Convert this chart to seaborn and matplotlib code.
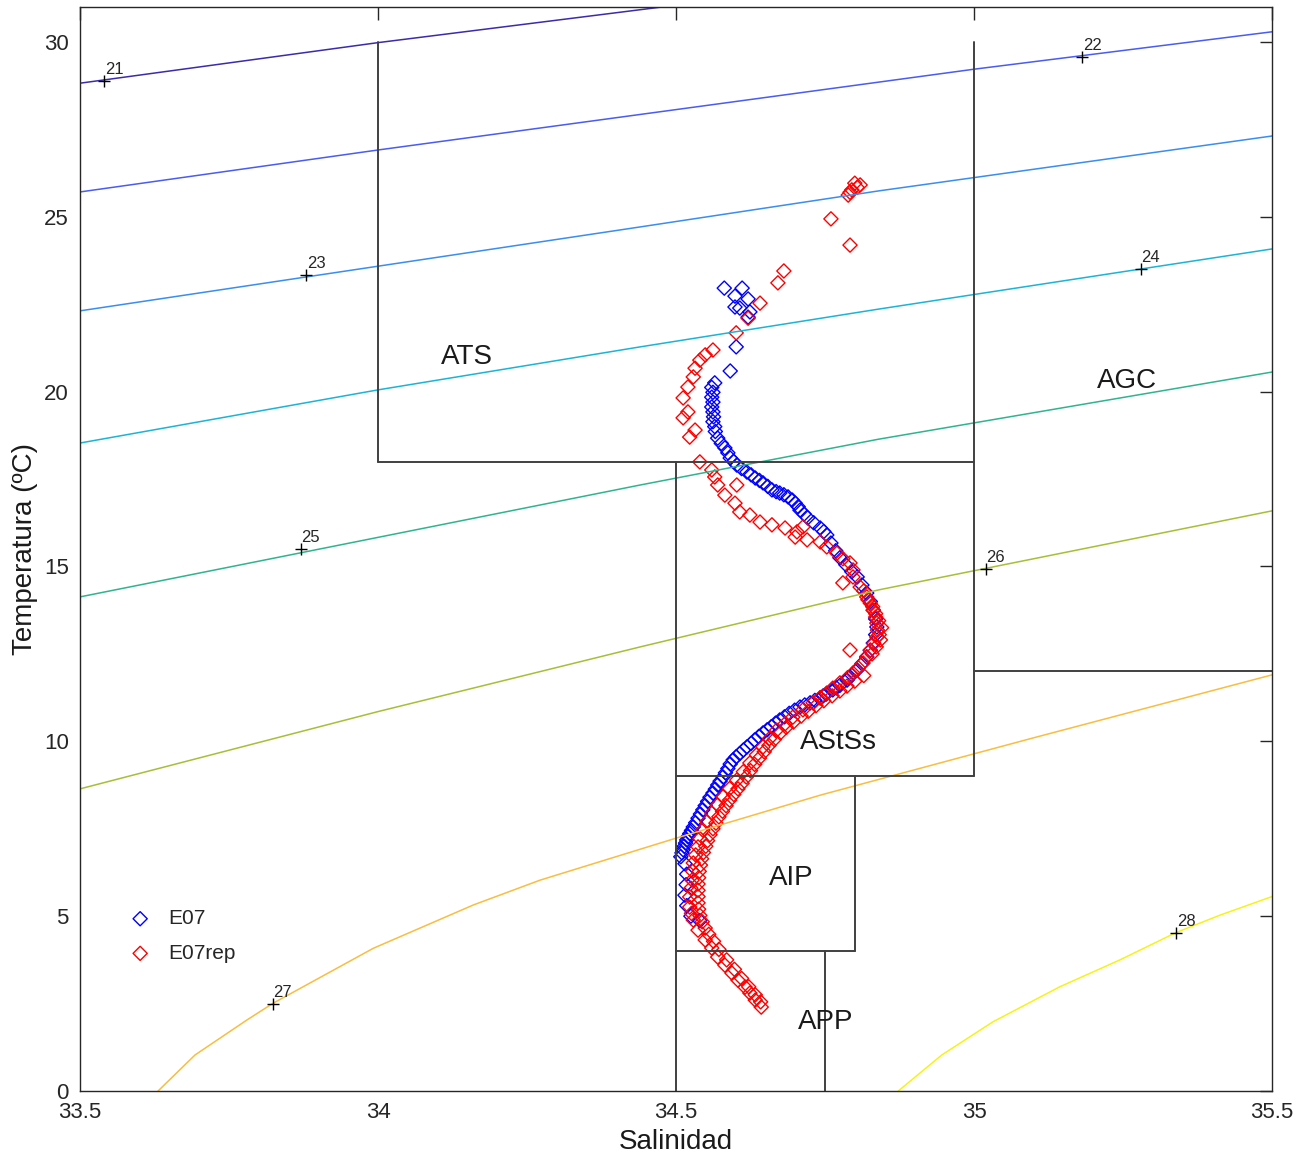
import seaborn as sns
import matplotlib.pyplot as plt
import numpy as np
import pandas as pd

# isopycnals (sigma-t) as (S, T) points
sig_levels = [21, 22, 23, 24, 25, 26, 27, 28]
sig_S = [
    [33.5, 34.0, 34.5],
    [33.5, 34.0, 35.0, 35.5],
    [33.5, 34.44, 34.84, 35.5],
    [33.5, 34.0, 34.44, 34.84, 35.5],
    [33.5, 34.44, 34.84, 35.5],
    [33.5, 34.0, 34.44, 34.84, 35.5],
    [33.631, 33.693, 33.780, 33.824, 33.992, 34.160, 34.272, 34.5, 34.742,
     35.1, 35.5],
    [34.873, 34.946, 35.032, 35.144, 35.245, 35.339, 35.413, 35.5],
]
sig_T = [
    [28.82, 29.98, 31.05],
    [25.71, 26.91, 29.22, 30.29],
    [22.31, 24.71, 25.74, 27.31],
    [18.53, 20.05, 21.28, 22.36, 24.08],
    [14.13, 17.33, 18.64, 20.56],
    [8.64, 10.85, 12.70, 14.33, 16.59],
    [0.0, 1.03, 2.03, 2.51, 4.08, 5.32, 6.03, 7.23, 8.46, 10.1, 11.9],
    [0.0, 1.03, 1.98, 2.98, 3.75, 4.53, 5.03, 5.56],
]
sig_colors = ['#3b2bae', '#4a5cf2', '#3a8ef0', '#1cb4d6', '#2fb48e',
              '#a6bf36', '#f9bd3f', '#f5f316']
lab_S = [33.541, 35.182, 33.88, 35.28, 33.87, 35.02, 33.823, 35.339]
lab_T = [28.89, 29.58, 23.33, 23.5, 15.5, 14.93, 2.49, 4.53]

# water mass names
wm_names = ['ATS', 'AGC', 'AStSs', 'AIP', 'APP']
wm_S = [34.149, 35.257, 34.772, 34.693, 34.752]
wm_T = [20.99, 20.30, 9.98, 6.09, 1.97]

# box outlines (S0, S1, T0, T1) segments
box_segs = [
    (34.0, 34.0, 18, 30), (35.0, 35.0, 9, 30), (34.0, 35.0, 18, 18),
    (34.5, 34.5, 0, 18), (34.5, 35.0, 9, 9), (35.0, 35.5, 12, 12),
    (34.8, 34.8, 4, 9), (34.5, 34.8, 4, 4), (34.75, 34.75, 0, 4),
]

# E07 profile
e07_S = [34.581, 34.611, 34.599, 34.621, 34.599, 34.607, 34.624, 34.621,
         34.601, 34.591,
         34.565, 34.560, 34.562, 34.560, 34.562, 34.560, 34.562, 34.563,
         34.562, 34.565, 34.566,
         34.570, 34.576, 34.582, 34.587, 34.591, 34.597, 34.602, 34.610,
         34.619, 34.626, 34.633, 34.640, 34.646, 34.654, 34.661, 34.668,
         34.674, 34.681, 34.688, 34.695, 34.700, 34.705, 34.708, 34.715,
         34.721, 34.731, 34.742, 34.748, 34.753, 34.760, 34.768, 34.775,
         34.785, 34.795, 34.804, 34.812, 34.820, 34.826, 34.831, 34.835,
         34.837, 34.835, 34.831, 34.826, 34.820, 34.812, 34.804, 34.795,
         34.787, 34.775, 34.763, 34.752, 34.742, 34.725, 34.708, 34.690,
         34.674, 34.660, 34.646, 34.632, 34.619, 34.607, 34.596, 34.587,
         34.579, 34.570, 34.562, 34.553, 34.545, 34.537, 34.529, 34.523,
         34.518, 34.514, 34.510, 34.508, 34.515, 34.518, 34.517, 34.515,
         34.518, 34.525, 34.540,
         34.790, 34.769, 34.747, 34.733, 34.716, 34.699, 34.682, 34.667,
         34.653, 34.639, 34.626, 34.613, 34.601, 34.591, 34.583, 34.574,
         34.566, 34.557, 34.549, 34.541, 34.533, 34.526, 34.520, 34.516,
         34.512]
e07_T = [22.96, 22.96, 22.73, 22.65, 22.42, 22.39, 22.28, 22.13,
         21.28, 20.59,
         20.25, 20.12, 19.98, 19.84, 19.70, 19.56, 19.42, 19.28,
         19.14, 19.00, 18.86,
         18.67, 18.52, 18.39, 18.25, 18.10, 18.00, 17.90, 17.80,
         17.70, 17.62, 17.53, 17.46, 17.39, 17.29, 17.19, 17.14,
         17.10, 17.05, 16.99, 16.90, 16.81, 16.71, 16.61, 16.50,
         16.39, 16.25, 16.10, 16.00, 15.90, 15.67, 15.45, 15.25,
         15.05, 14.85, 14.70, 14.47, 14.24, 14.00, 13.75, 13.50,
         13.27, 13.05, 12.81, 12.60, 12.41, 12.22, 12.04, 11.90,
         11.75, 11.60, 11.47, 11.35, 11.24, 11.10, 10.98, 10.80,
         10.61, 10.42, 10.24, 10.04, 9.84, 9.65, 9.47, 9.22,
         8.98, 8.75, 8.52, 8.28, 8.04, 7.80, 7.55, 7.36,
         7.18, 7.00, 6.81, 6.70, 6.50, 6.20, 5.90, 5.60,
         5.30, 5.00, 4.87,
         11.82, 11.53, 11.30, 11.17, 11.04, 10.89, 10.70, 10.52,
         10.33, 10.14, 9.94, 9.75, 9.56, 9.35, 9.10, 8.86,
         8.63, 8.40, 8.16, 7.92, 7.67, 7.45, 7.27, 7.09,
         6.90]

# E07rep profile
rep_S = [34.800, 34.809, 34.804, 34.795, 34.792, 34.789, 34.760, 34.792,
         34.681, 34.671, 34.641, 34.621, 34.601, 34.562, 34.549, 34.540,
         34.532, 34.529, 34.520, 34.512, 34.520, 34.512, 34.532, 34.523,
         34.540, 34.560, 34.565, 34.570, 34.582, 34.602, 34.599, 34.607,
         34.624, 34.641, 34.661, 34.683, 34.703, 34.713, 34.700, 34.720,
         34.742, 34.753, 34.770, 34.780, 34.792, 34.797, 34.780, 34.797,
         34.809, 34.820, 34.826, 34.831, 34.835, 34.837, 34.838, 34.837,
         34.832, 34.792, 34.826, 34.820, 34.814, 34.806, 34.797, 34.788,
         34.775, 34.763, 34.753, 34.742, 34.730, 34.713, 34.696, 34.683,
         34.669, 34.657, 34.646, 34.635, 34.624, 34.613, 34.602, 34.590,
         34.579, 34.570, 34.560, 34.552, 34.545, 34.540, 34.537, 34.533,
         34.529, 34.528, 34.527, 34.525, 34.523, 34.523, 34.526, 34.529,
         34.537, 34.549, 34.560, 34.570, 34.582, 34.594, 34.604, 34.616,
         34.624, 34.633, 34.643,
         34.815, 34.830, 34.840, 34.841, 34.836, 34.829, 34.845, 34.843,
         34.835, 34.822,
         34.815, 34.800, 34.787, 34.775, 34.762, 34.748, 34.735, 34.722,
         34.710, 34.697, 34.685, 34.675, 34.665, 34.656, 34.648, 34.640,
         34.632, 34.625, 34.618, 34.611, 34.604, 34.597, 34.590, 34.584,
         34.578, 34.572, 34.567, 34.562, 34.557, 34.553, 34.550, 34.546,
         34.543, 34.541, 34.539, 34.538, 34.537, 34.537, 34.537, 34.537,
         34.538, 34.540, 34.544, 34.549, 34.555, 34.563, 34.572, 34.585,
         34.598, 34.610, 34.622, 34.633, 34.642]
rep_T = [25.96, 25.91, 25.84, 25.77, 25.70, 25.62, 24.94, 24.19,
         23.45, 23.11, 22.53, 22.10, 21.68, 21.19, 21.05, 20.90,
         20.67, 20.42, 20.13, 19.82, 19.42, 19.25, 18.90, 18.70,
         17.99, 17.76, 17.56, 17.33, 17.04, 17.33, 16.81, 16.56,
         16.47, 16.27, 16.19, 16.10, 15.99, 16.13, 15.84, 15.76,
         15.70, 15.56, 15.38, 15.22, 15.10, 14.90, 14.53, 14.70,
         14.41, 14.13, 13.95, 13.75, 13.55, 13.38, 13.18, 12.98,
         12.80, 12.61, 12.61, 12.42, 12.24, 12.10, 11.95, 11.82,
         11.67, 11.52, 11.38, 11.25, 11.10, 10.90, 10.69, 10.50,
         10.32, 10.08, 9.84, 9.61, 9.38, 9.13, 8.89, 8.65,
         8.41, 8.18, 7.95, 7.70, 7.46, 7.22, 6.98, 6.75,
         6.52, 6.28, 6.03, 5.80, 5.55, 5.26, 5.08, 4.89,
         4.60, 4.32, 4.09, 3.83, 3.60, 3.37, 3.17, 2.97,
         2.80, 2.60, 2.40,
         14.30, 13.85, 13.45, 13.05, 12.70, 12.50, 13.25, 12.90,
         13.65, 14.05,
         11.88, 11.72, 11.58, 11.44, 11.30, 11.16, 11.02, 10.86,
         10.72, 10.55, 10.40, 10.24, 10.05, 9.88, 9.70, 9.52,
         9.34, 9.16, 8.98, 8.80, 8.64, 8.48, 8.32, 8.16,
         8.00, 7.84, 7.66, 7.50, 7.33, 7.16, 7.00, 6.82,
         6.64, 6.46, 6.28, 6.10, 5.92, 5.74, 5.56, 5.38,
         5.20, 5.02, 4.84, 4.66, 4.48, 4.28, 4.05, 3.75,
         3.48, 3.22, 2.98, 2.75, 2.55]

sns.set_theme(style='white')
plt.rcParams['font.family'] = ['Liberation Sans', 'DejaVu Sans']
plt.rcParams['axes.edgecolor'] = '#262626'

fig = plt.figure(figsize=(13.05, 11.62), dpi=100)
ax = fig.add_axes([0.0613, 0.0611, 0.9134, 0.9329])

for S, T, c in zip(sig_S, sig_T, sig_colors):
    sns.lineplot(x=S, y=T, color=c, linewidth=1.1, sort=False, ax=ax, legend=False)
for s, t, lev in zip(lab_S, lab_T, sig_levels):
    ax.plot(s, t, marker='+', color='black', markersize=8, mew=1.0)
    ax.annotate(str(lev), (s, t), xytext=(0.5, 5), textcoords='offset points',
                fontsize=12, color='#262626', ha='left', va='baseline')

for s0, s1, t0, t1 in box_segs:
    ax.plot([s0, s1], [t0, t1], color='#404040', linewidth=1.4)
for name, s, t in zip(wm_names, wm_S, wm_T):
    ax.text(s, t, name, fontsize=20, color='#1a1a1a', ha='center', va='center')

sns.scatterplot(x=e07_S, y=e07_T, marker='D', s=52, facecolor='none',
                edgecolor='blue', linewidth=1.0, label='E07', ax=ax)
sns.scatterplot(x=rep_S, y=rep_T, marker='D', s=52, facecolor='none',
                edgecolor='red', linewidth=1.0, label='E07rep', ax=ax)

ax.legend(loc='upper left', bbox_to_anchor=(0.026, 0.185), frameon=False,
          fontsize=15, handlelength=1.0, handletextpad=0.85, labelspacing=0.75)

ax.set_xlim(33.5, 35.5)
ax.set_ylim(0, 31)
ax.set_xticks([33.5, 34, 34.5, 35, 35.5])
ax.set_xticklabels(['33.5', '34', '34.5', '35', '35.5'])
ax.set_yticks([0, 5, 10, 15, 20, 25, 30])
ax.tick_params(direction='in', length=9, width=1, top=True, right=True,
               labelsize=16, colors='#262626', pad=8)
for sp in ax.spines.values():
    sp.set_linewidth(1.0)
ax.set_xlabel('Salinidad', fontsize=20, color='#1a1a1a', labelpad=4)
ax.set_ylabel('Temperatura (ºC)', fontsize=20, color='#1a1a1a', labelpad=4)

fig.savefig('out.png', dpi=100)
